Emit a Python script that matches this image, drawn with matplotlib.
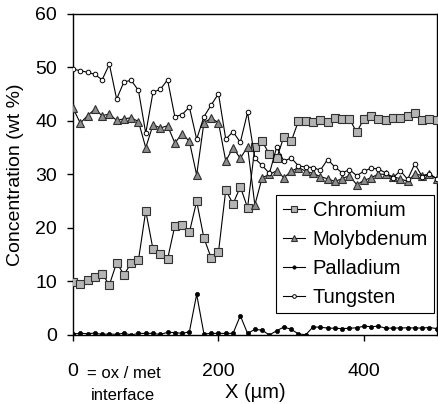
import numpy as np
import matplotlib
matplotlib.use("Agg")
import matplotlib.pyplot as plt

plt.rcParams['font.family'] = ['Liberation Sans', 'DejaVu Sans']

x_um = [0, 10, 20, 30, 40, 50, 60, 70, 80, 90,
        100, 110, 120, 130, 140, 150, 160, 170, 180, 190,
        200, 210, 220, 230, 240, 250, 260, 270, 280, 290,
        300, 310, 320, 330, 340, 350, 360, 370, 380, 390,
        400, 410, 420, 430, 440, 450, 460, 470, 480, 490, 500]

chromium = [9.9, 9.6, 10.2, 10.8, 11.4, 9.4, 13.5, 11.3, 13.4, 14.0,
            23.2, 16.0, 15.1, 14.2, 20.4, 20.5, 19.2, 25.0, 18.1, 14.4,
            15.5, 27.1, 24.5, 27.7, 23.8, 35.1, 36.2, 33.8, 33.0, 37.1,
            36.2, 40.0, 40.0, 39.8, 40.1, 39.9, 40.6, 40.4, 40.4, 37.9,
            40.4, 41.0, 40.3, 40.2, 40.5, 40.5, 41.0, 41.5, 40.2, 40.4, 40.2]

molybdenum = [42.4, 39.6, 41.0, 42.2, 41.0, 41.3, 40.1, 40.4, 40.6, 39.9,
              35.0, 39.3, 38.7, 39.1, 35.9, 37.6, 36.2, 29.9, 39.7, 40.5,
              39.7, 32.5, 35.0, 33.0, 35.2, 24.3, 29.4, 30.0, 30.7, 29.4,
              30.6, 31.3, 30.6, 30.2, 29.6, 29.2, 28.7, 29.2, 29.8, 28.1,
              28.9, 29.4, 30.1, 30.0, 29.6, 29.2, 28.7, 30.1, 29.8, 30.1, 29.2]

palladium = [0.2, 0.3, 0.25, 0.35, 0.1, 0.2, 0.1, 0.35, 0.0, 0.3,
             0.3, 0.3, 0.1, 0.5, 0.45, 0.3, 0.6, 7.6, 0.2, 0.3,
             0.3, 0.3, 0.3, 3.6, 0.3, 1.05, 0.9, 0.0, 0.8, 1.5,
             1.05, 0.2, 0.05, 1.5, 1.45, 1.3, 1.25, 1.2, 1.25, 1.35,
             1.65, 1.55, 1.65, 1.25, 1.3, 1.3, 1.35, 1.3, 1.3, 1.4, 1.2]

tungsten = [49.7, 49.4, 49.1, 48.7, 47.7, 50.6, 44.1, 47.3, 47.6, 45.7,
            37.7, 45.4, 45.9, 47.7, 40.8, 41.2, 42.6, 36.6, 40.8, 43.0,
            45.1, 36.6, 38.0, 36.0, 41.6, 33.0, 31.7, 30.2, 35.1, 32.5,
            33.1, 31.6, 31.4, 31.3, 30.8, 32.8, 31.4, 30.3, 30.9, 29.8,
            30.6, 31.2, 31.0, 30.3, 29.4, 30.7, 29.1, 32.0, 29.6, 30.1, 29.2]

x_ticks = [0, 200, 400]
y_ticks = [0, 10, 20, 30, 40, 50, 60]

fig = plt.figure(figsize=(4.38, 4.04), dpi=100)
ax = fig.add_axes([0.1667, 0.1708, 0.8303, 0.7946])

edge = '#303030'
ax.plot(x_um, chromium, '-', color='black', lw=0.8, marker='s', ms=5.2,
        mfc='#b4b4b4', mec=edge, mew=0.8, label='Chromium', zorder=3)
ax.plot(x_um, molybdenum, '-', color='black', lw=0.8, marker='^', ms=5.5,
        mfc='#8c8c8c', mec=edge, mew=0.8, label='Molybdenum', zorder=3)
ax.plot(x_um, palladium, '-', color='black', lw=0.8, marker='o', ms=3,
        mfc='black', mec='black', mew=0.5, label='Palladium', zorder=3)
ax.plot(x_um, tungsten, '-', color='black', lw=0.8, marker='o', ms=3.3,
        mfc='white', mec='black', mew=0.7, label='Tungsten', zorder=3)

ax.set_xlim(0, 500)
ax.set_ylim(0, 60)
ax.set_xticks(x_ticks)
ax.set_yticks(y_ticks)
ax.set_xticklabels(['', '200', '400'])
ax.tick_params(axis='both', direction='out', length=4.5, width=1, labelsize=14)
ax.tick_params(axis='x', pad=16)
ax.tick_params(axis='y', pad=7)
for s in ax.spines.values():
    s.set_linewidth(1.0)

ax.set_ylabel('Concentration (wt %)', fontsize=14, labelpad=8)

# x label and the annotation under zero
fig.text(73 / 438, 1 - 372 / 404, '0', fontsize=14, ha='center', va='center')
fig.text(87 / 438, 1 - 373 / 404, '= ox / met', fontsize=12, ha='left', va='center')
fig.text(123 / 438, 1 - 395 / 404, 'interface', fontsize=12, ha='center', va='center')
fig.text(255 / 438, 1 - 392 / 404, 'X (\u00b5m)', fontsize=14.5, ha='center', va='center')

leg = ax.legend(loc='lower right', bbox_to_anchor=(0.993, 0.069), fontsize=14.5,
                frameon=True, fancybox=False, framealpha=1, edgecolor='black',
                handlelength=1.1, handletextpad=0.4, borderpad=0.3,
                labelspacing=0.5, borderaxespad=0.0, markerscale=0.8)
leg.get_frame().set_linewidth(0.8)

fig.savefig('out.png', dpi=100)
